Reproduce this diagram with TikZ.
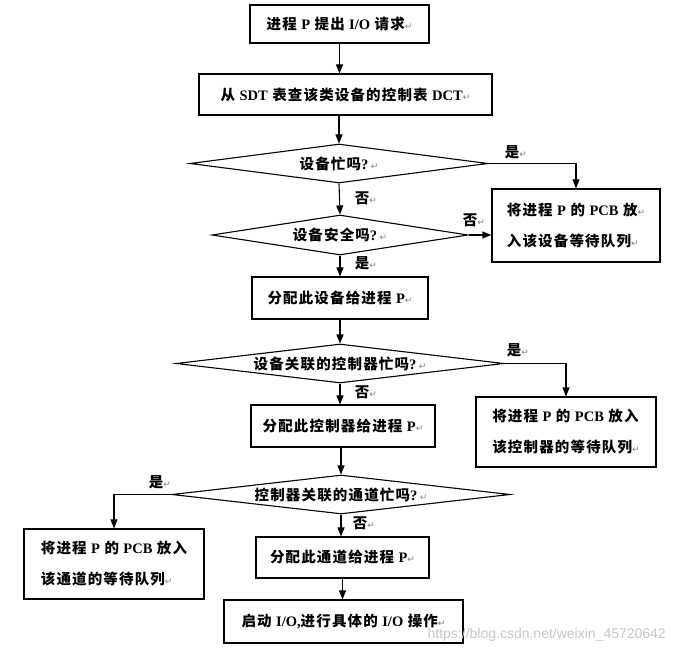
\documentclass[tikz,border=0pt]{standalone}
\usepackage{fontspec}
\setmainfont{Noto Sans CJK SC}[LetterSpace=8]
\newfontfamily\ltnfont{Liberation Serif}
\newfontfamily\symfont{DejaVu Sans}
\newfontfamily\wmfont{Liberation Sans}
\newcommand\ltn[1]{{\ltnfont\bfseries #1}}
\newcommand\parmk{{\symfont\mdseries\color{gray}\fontsize{9}{9}\selectfont ↵}}
\usetikzlibrary{shapes.geometric,arrows.meta}
\begin{document}
\begin{tikzpicture}[x=1pt,y=-1pt,
  every node/.style={font=\fontsize{14.5}{16}\selectfont\bfseries},
  box/.style={draw,line width=1.1pt,inner sep=0pt,align=center},
  dia/.style={draw,diamond,line width=1.1pt,inner sep=0pt},
  arr/.style={line width=1.1pt,-{Triangle[length=9pt,width=7pt]}},
  lab/.style={inner sep=0pt,anchor=center}]
\useasboundingbox (0,0) rectangle (675,652);

% boxes
\node[box,minimum width=179pt,minimum height=38pt] (b1) at (339.5,24) {进程 \ltn{P} 提出 \ltn{I/O} 请求\parmk};
\node[box,minimum width=293pt,minimum height=41pt] (b2) at (345.5,94.5) {从 \ltn{SDT} 表查该类设备的控制表 \ltn{DCT}\parmk};
\node[dia,minimum width=298pt,minimum height=39pt,aspect=7.6] (d1) at (339,163.5) {设备忙吗\ltn{?}\,\parmk};
\node[box,minimum width=168pt,minimum height=73pt,align=left] (b3) at (576,225.5) {将进程 \ltn{P} 的 \ltn{PCB} 放\parmk\\[15pt]入该设备等待队列\parmk};
\node[dia,minimum width=256pt,minimum height=40pt,aspect=6.4] (d2) at (340,235) {设备安全吗\ltn{?}\,\parmk};
\node[box,minimum width=176pt,minimum height=42pt] (b4) at (340,298) {分配此设备给进程 \ltn{P}\parmk};
\node[dia,minimum width=328pt,minimum height=39pt,aspect=8.4] (d3) at (340,363.5) {设备关联的控制器忙吗\ltn{?}\,\parmk};
\node[box,minimum width=180pt,minimum height=70pt,align=left] (b5) at (566,432) {将进程 \ltn{P} 的 \ltn{PCB} 放入\\[15pt]该控制器的等待队列\parmk};
\node[box,minimum width=184pt,minimum height=42pt] (b6) at (343,426) {分配此控制器给进程 \ltn{P}\parmk};
\node[dia,minimum width=338pt,minimum height=39pt,aspect=8.7] (d4) at (341,494.5) {控制器关联的通道忙吗\ltn{?}\,\parmk};
\node[box,minimum width=180pt,minimum height=70pt,align=left] (b7) at (114,564) {将进程 \ltn{P} 的 \ltn{PCB} 放入\\[15pt]该通道的等待队列\parmk};
\node[box,minimum width=173pt,minimum height=41pt] (b8) at (342.5,557.5) {分配此通道给进程 \ltn{P}\parmk};
\node[box,minimum width=239pt,minimum height=43pt] (b9) at (343.5,621.5) {启动 \ltn{I/O,}进行具体的 \ltn{I/O} 操作\parmk};

% connectors
\draw[arr] (b1.south) -- (b1.south |- b2.north);
\draw[arr] (d1.north |- b2.south) -- (d1.north);
\draw[arr] (d1.east) -| (b3.north);
\draw[arr] (d1.south) -- (d2.north);
\draw[arr] (d2.east) -- (d2.east -| b3.west);
\draw[arr] (d2.south) -- (d2.south |- b4.north);
\draw[arr] (d3.north |- b4.south) -- (d3.north);
\draw[arr] (d3.east) -| (b5.north);
\draw[arr] (d3.south) -- (d3.south |- b6.north);
\draw[arr] (d4.north |- b6.south) -- (d4.north);
\draw[arr] (d4.west) -| (b7.north);
\draw[arr] (d4.south) -- (d4.south |- b8.north);
\draw[arr] (b8.south) -- (b8.south |- b9.north);

% labels
\node[lab] (l1) at (516,152) {是\parmk};
\node[lab] (l2) at (366,198) {否\parmk};
\node[lab] (l3) at (474,220) {否\parmk};
\node[lab] (l4) at (366,263) {是\parmk};
\node[lab] (l5) at (518,350) {是\parmk};
\node[lab] (l6) at (366,392) {否\parmk};
\node[lab] (l7) at (160,482) {是\parmk};
\node[lab] (l8) at (364,523) {否\parmk};

% watermark
\node[inner sep=0pt,anchor=base east,text=gray!45,font=\wmfont\mdseries\fontsize{14}{14}\selectfont] (wm) at (666,638) {https://blog.csdn.net/weixin\_45720642};
\end{tikzpicture}
\end{document}
